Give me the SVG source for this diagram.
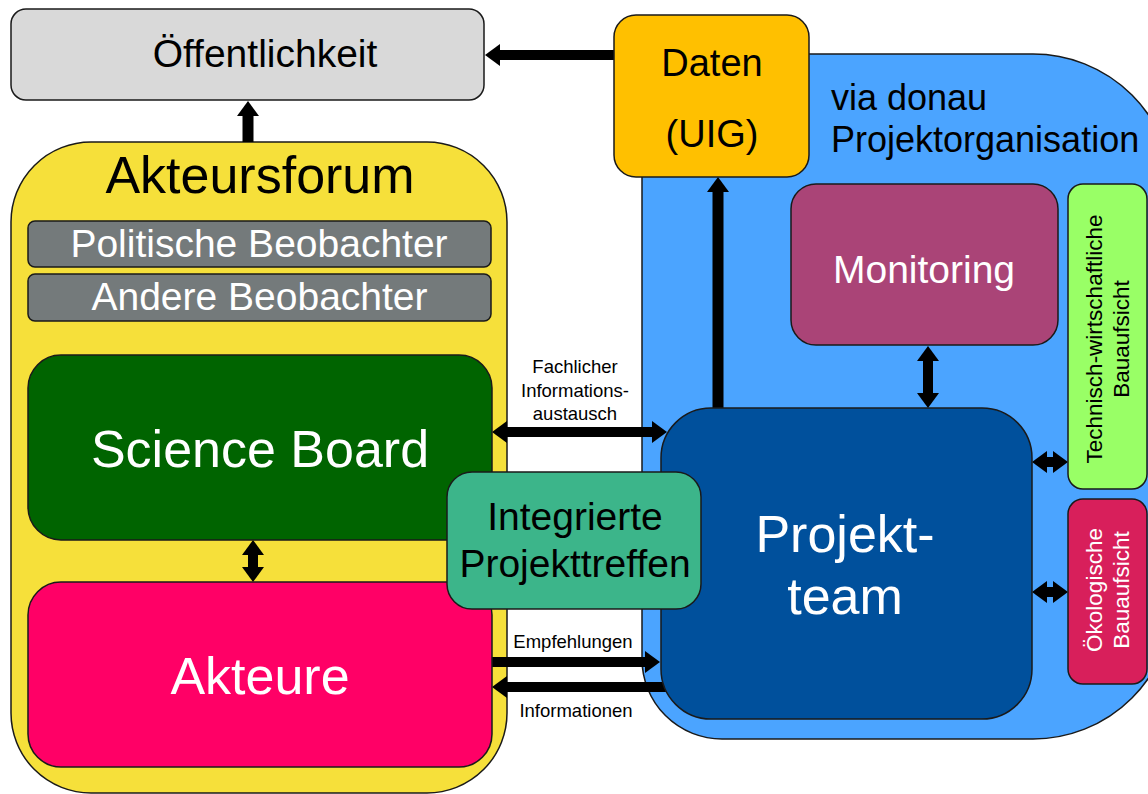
<svg xmlns="http://www.w3.org/2000/svg" width="1148" height="794" viewBox="0 0 1148 794">
<style>
text{font-family:"Liberation Sans",Arial,sans-serif;text-anchor:middle}
.box{stroke:#1a1a1a;stroke-width:1.5}
.w{fill:#fff}
.k{fill:#000}
.big{font-size:52px}
.mid{font-size:39px}
.sm{font-size:18.5px}
.rot{font-size:22.5px}
.conn{stroke:#000;fill:none}
</style>
<defs>
<marker id="ah" viewBox="0 0 15 22" refX="1" refY="11" markerWidth="15" markerHeight="22" markerUnits="userSpaceOnUse" orient="auto-start-reverse">
<path d="M0,0 L15,11 L0,22 Z" fill="#000"/>
</marker>
</defs>
<rect width="1148" height="794" fill="#fff"/>

<g id="akteursforum">
<rect class="box" x="11" y="142" width="496" height="651" rx="80" fill="#f6e03a"/>
<text class="k big" x="260" y="193">Akteursforum</text>
</g>

<g id="projektorganisation">
<path class="box" d="M642,54 H1033 A140,140 0 0 1 1173,194 V599 A140,140 0 0 1 1033,739 H722 A80,80 0 0 1 642,659 Z" fill="#4ba4ff"/>
<text class="k" x="831" y="110" style="font-size:36px;text-anchor:start">via donau</text>
<text class="k" x="831" y="152" style="font-size:36px;text-anchor:start">Projektorganisation</text>
</g>

<g id="connectors">
<path class="conn" stroke-width="10" d="M614,55 H499" marker-end="url(#ah)"/>
<path class="conn" stroke-width="11" d="M248,142 V115" marker-end="url(#ah)"/>
<path class="conn" stroke-width="11" d="M718,420 V191" marker-end="url(#ah)"/>
<path class="conn" stroke-width="10" d="M253,554 V568" marker-start="url(#ah)" marker-end="url(#ah)"/>
<path class="conn" stroke-width="10" d="M928,360 V394" marker-start="url(#ah)" marker-end="url(#ah)"/>
<path class="conn" stroke-width="10" d="M1046,462 H1054" marker-start="url(#ah)" marker-end="url(#ah)"/>
<path class="conn" stroke-width="10" d="M1046,592 H1054" marker-start="url(#ah)" marker-end="url(#ah)"/>
<path class="conn" stroke-width="10" d="M506,432 H653" marker-start="url(#ah)" marker-end="url(#ah)"/>
<path class="conn" stroke-width="10" d="M492,662 H646" marker-end="url(#ah)"/>
<path class="conn" stroke-width="10" d="M690,687 H506" marker-end="url(#ah)"/>
<text class="k sm" x="575" y="373">Fachlicher</text>
<text class="k sm" x="575" y="397">Informations-</text>
<text class="k sm" x="575" y="420">austausch</text>
<text class="k sm" x="573" y="648">Empfehlungen</text>
<text class="k sm" x="576" y="717">Informationen</text>
</g>

<g id="oeffentlichkeit">
<rect class="box" x="11" y="9" width="473" height="91" rx="15" fill="#d9d9d9"/>
<text class="k mid" x="265" y="67">Öffentlichkeit</text>
</g>

<g id="politische-beobachter">
<rect class="box" x="28" y="221" width="463" height="46" rx="7" fill="#747a7b"/>
<text class="w mid" x="259" y="257">Politische Beobachter</text>
</g>

<g id="andere-beobachter">
<rect class="box" x="28" y="274" width="463" height="47" rx="7" fill="#747a7b"/>
<text class="w mid" x="259.5" y="310">Andere Beobachter</text>
</g>

<g id="science-board">
<rect class="box" x="28" y="355" width="464" height="185" rx="33" fill="#006400"/>
<text class="w big" x="260" y="467">Science Board</text>
</g>

<g id="akteure">
<rect class="box" x="28" y="582" width="464" height="185" rx="33" fill="#ff0066"/>
<text class="w big" x="260" y="694">Akteure</text>
</g>

<g id="daten">
<rect class="box" x="614" y="15" width="195" height="162" rx="22" fill="#ffc000"/>
<text class="k" x="712" y="76" style="font-size:38px">Daten</text>
<text class="k" x="712" y="147" style="font-size:38px">(UIG)</text>
</g>

<g id="monitoring">
<rect class="box" x="791" y="184" width="267" height="161" rx="25" fill="#aa4477"/>
<text class="w mid" x="924" y="283">Monitoring</text>
</g>

<g id="projektteam">
<rect class="box" x="661" y="408" width="371" height="311" rx="50" fill="#00509c"/>
<text class="w big" x="845" y="552">Projekt-</text>
<text class="w big" x="845" y="614">team</text>
</g>

<g id="integrierte-projekttreffen">
<rect class="box" x="447" y="472" width="254" height="137" rx="25" fill="#3cb58a"/>
<text class="k mid" x="575" y="530">Integrierte</text>
<text class="k mid" x="575" y="577">Projekttreffen</text>
</g>

<g id="technisch-wirtschaftliche-bauaufsicht">
<rect class="box" x="1068" y="184" width="79" height="305" rx="15" fill="#99ff66"/>
<text class="k rot" transform="translate(1102,339) rotate(-90)">Technisch-wirtschaftliche</text>
<text class="k rot" transform="translate(1129,339) rotate(-90)">Bauaufsicht</text>
</g>

<g id="oekologische-bauaufsicht">
<rect class="box" x="1068" y="499" width="79" height="185" rx="15" fill="#d81f5b"/>
<text class="w rot" transform="translate(1102,590) rotate(-90)">Ökologische</text>
<text class="w rot" transform="translate(1129,590) rotate(-90)">Bauaufsicht</text>
</g>
</svg>
